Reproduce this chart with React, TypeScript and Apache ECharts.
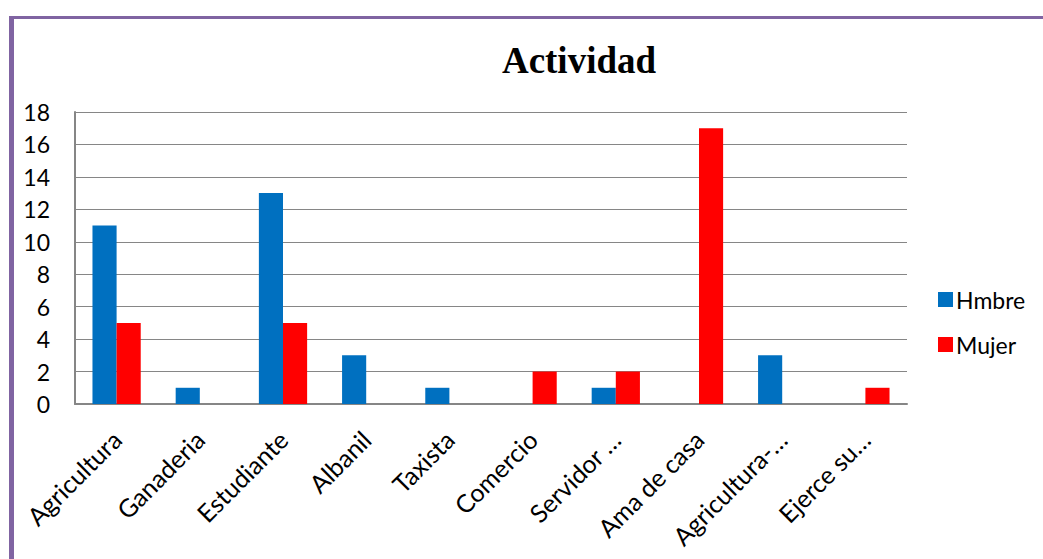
import React, { useEffect, useRef } from "react";
import * as echarts from "echarts";

const categories = [
  "Agricultura",
  "Ganaderia",
  "Estudiante",
  "Albanil",
  "Taxista",
  "Comercio",
  "Servidor …",
  "Ama de casa",
  "Agricultura-…",
  "Ejerce su…",
];
const hombre = [11, 1, 13, 3, 1, 0, 1, 0, 3, 0];
const mujer = [5, 0, 5, 0, 0, 2, 2, 17, 0, 1];
const yTicks = { min: 0, max: 18, interval: 2 };

const FONT = "Lato";

export default function App() {
  const ref = useRef<HTMLDivElement>(null);
  useEffect(() => {
    document.body.style.margin = "0";
    const chart = echarts.init(ref.current!, undefined, { renderer: "svg" });
    chart.setOption({
      animation: false,
      backgroundColor: "#ffffff",
      title: {
        text: "Actividad",
        left: 574,
        top: 37,
        textAlign: "center",
        textStyle: {
          fontFamily: "Liberation Serif",
          fontWeight: "bold",
          fontSize: 37,
          color: "#000",
        },
      },
      legend: {
        orient: "vertical",
        left: 933,
        top: 283,
        itemWidth: 15,
        itemHeight: 15,
        itemGap: 22,
        icon: "rect",
        textStyle: { fontFamily: FONT, fontSize: 23, color: "#000", padding: [0, 0, 0, -2] },
        data: ["Hmbre", "Mujer"],
      },
      grid: { left: 75, top: 112, right: 136, bottom: 155 },
      xAxis: {
        type: "category",
        data: categories,
        axisLine: { lineStyle: { color: "#868686", width: 2 } },
        axisTick: { show: false },
        axisLabel: {
          rotate: 45,
          interval: 0,
          fontFamily: FONT,
          fontSize: 25,
          color: "#000",
          margin: 31,
        },
      },
      yAxis: {
        type: "value",
        min: yTicks.min,
        max: yTicks.max,
        interval: yTicks.interval,
        axisLine: { show: true, lineStyle: { color: "#868686", width: 2 } },
        axisTick: { show: false },
        splitLine: { lineStyle: { color: "#868686", width: 1 } },
        axisLabel: { fontFamily: FONT, fontSize: 23, color: "#000", margin: 25 },
      },
      series: [
        {
          name: "Hmbre",
          type: "bar",
          data: hombre,
          itemStyle: { color: "#0070C0" },
          barGap: "0%",
          barCategoryGap: "42%",
        },
        {
          name: "Mujer",
          type: "bar",
          data: mujer,
          itemStyle: { color: "#FF0000" },
          barGap: "0%",
          barCategoryGap: "42%",
        },
      ],
      graphic: [
        { type: "rect", shape: { x: 10, y: 16, width: 1040, height: 3 }, style: { fill: "#8064A2" } },
        { type: "rect", shape: { x: 9, y: 16, width: 5, height: 560 }, style: { fill: "#8064A2" } },
      ],
    });
    return () => chart.dispose();
  }, []);
  return <div ref={ref} style={{ position: "fixed", left: 0, top: 0, width: 1043, height: 559 }} />;
}
